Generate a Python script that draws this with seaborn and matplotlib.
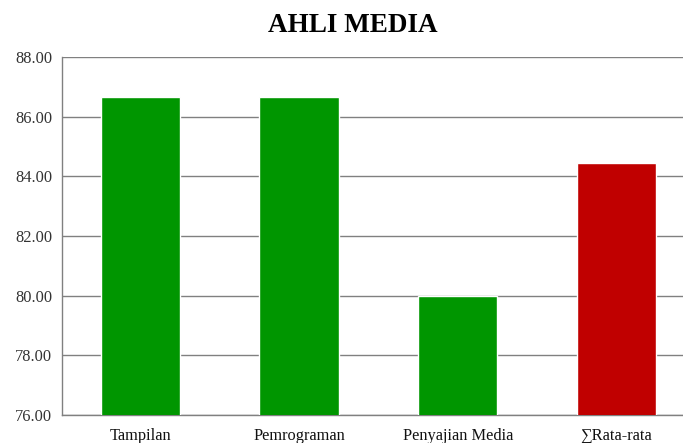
import matplotlib
matplotlib.use("Agg")
import matplotlib.pyplot as plt
import seaborn as sns
import pandas as pd

categories = ["Tampilan", "Pemrograman", "Penyajian Media", "\u2211Rata-rata"]
scores = [86.67, 86.67, 80.00, 84.44]
bar_colors = ["#009600", "#009600", "#009600", "#c00000"]
y_ticks = [76, 78, 80, 82, 84, 86, 88]

sns.set_theme(style="white")
plt.rcParams["font.family"] = ["Liberation Serif", "DejaVu Serif"]

df = pd.DataFrame({"kategori": categories, "nilai": scores})

fig = plt.figure(figsize=(6.83, 4.43), dpi=100)
ax = fig.add_axes([62 / 683, 1 - 415 / 443, 1 - 62 / 683, (415 - 57) / 443])

sns.barplot(data=df, x="kategori", y="nilai", hue="kategori",
            palette=bar_colors, width=0.5, legend=False, ax=ax,
            saturation=1, zorder=3)

ax.set_ylim(76, 88)
ax.set_xlim(-0.495, 3.42)
ax.set_yticks(y_ticks)
ax.set_yticklabels([f"{v:.2f}" for v in y_ticks])
ax.yaxis.grid(True, color="#808080", linewidth=1.0, zorder=0)
ax.set_axisbelow(True)
ax.set_xlabel("")
ax.set_ylabel("")

for side in ["top", "right"]:
    ax.spines[side].set_visible(False)
for side in ["left", "bottom"]:
    ax.spines[side].set_color("#808080")
    ax.spines[side].set_linewidth(1.0)

ax.tick_params(axis="y", length=0, pad=7, labelsize=11.8, labelcolor="#333333")
ax.tick_params(axis="x", length=0, pad=9, labelsize=11.8, labelcolor="#111111")

fig.text(353 / 683, 1 - 26 / 443, "AHLI MEDIA", ha="center", va="center",
         fontsize=19.5, fontweight="bold", color="black")

fig.savefig("out.png", dpi=100)
